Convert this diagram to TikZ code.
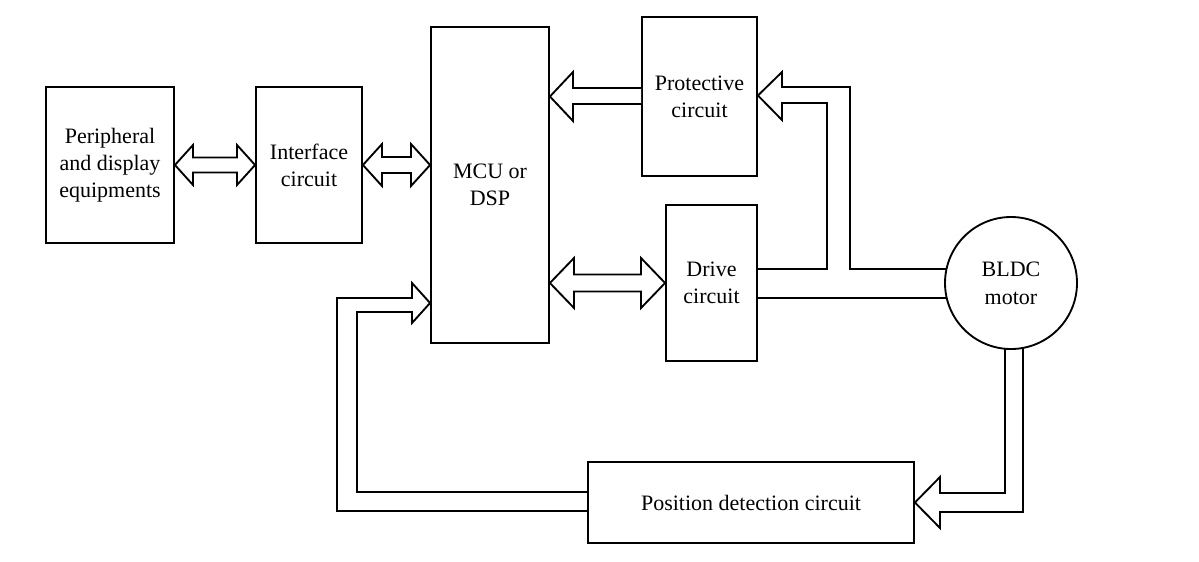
\documentclass[tikz,border=0pt]{standalone}
\usepackage{fontspec}
\setmainfont{Liberation Serif}
\newcommand{\fsz}{\fontsize{16.5}{20.25}\selectfont}
\begin{document}
\begin{tikzpicture}[x=0.75pt,y=-0.75pt,line width=1.4pt,line join=miter,
  box/.style={draw,line width=1.4pt,inner sep=0pt,align=center,font=\fsz},
  pipe/.style={draw,line width=1.4pt,fill=white,line join=miter}]
\useasboundingbox (0,0) rectangle (1199,561);
\node[box,minimum width=96pt,minimum height=117pt] (per) at (110,165) {Peripheral\\and display\\equipments};
\node[box,minimum width=79.5pt,minimum height=117pt] (int) at (309,165) {Interface\\circuit};
\node[box,minimum width=88.5pt,minimum height=237pt] (mcu) at (490,185) {MCU or\\DSP};
\node[box,minimum width=86.25pt,minimum height=119.25pt] (prot) at (699.5,96.5) {Protective\\circuit};
\node[box,minimum width=68.25pt,minimum height=117pt] (drv) at (711.5,283) {Drive\\circuit};
\node[box,minimum width=244.5pt,minimum height=60.75pt] (pos) at (751,502.5) {Position detection circuit};
\node[box,circle,minimum size=99pt,font={\fontsize{16.5}{21}\selectfont}] (mot) at (1011,283) {BLDC\\motor};
% Peripheral <-> Interface
\draw[pipe] (per.east|-0,165) -- (193,145) -- (193,157.5) -- (237,157.5) -- (237,145) -- (int.west|-0,165)
  -- (237,185) -- (237,172.5) -- (193,172.5) -- (193,185) -- cycle;
% Interface <-> MCU
\draw[pipe] (int.east|-0,165) -- (382,144) -- (382,157) -- (411,157) -- (411,144) -- (mcu.west|-0,165)
  -- (411,186) -- (411,173) -- (382,173) -- (382,186) -- cycle;
% Protective -> MCU
\draw[pipe] (prot.west|-0,88) -- (573,88) -- (573,72) -- (mcu.east|-0,96.5) -- (573,121) -- (573,104) -- (prot.west|-0,104);
% MCU <-> Drive
\draw[pipe] (mcu.east|-0,283) -- (574,258) -- (574,274.5) -- (641,274.5) -- (641,258) -- (drv.west|-0,283)
  -- (641,308) -- (641,291.5) -- (574,291.5) -- (574,308) -- cycle;
% Motor -> Protective (branch of drive-motor link)
\draw[pipe,fill=none] (946.5,269) -- (850,269) -- (850,87) -- (782,87) -- (782,72) -- (prot.east|-0,95.5)
  -- (782,120) -- (782,103) -- (827,103) -- (827,269) -- (drv.east|-0,269);
\draw (drv.east|-0,298) -- (946.7,298);
% Motor -> Position detection
\draw[pipe,fill=none] (1005,348.7) -- (1005,493) -- (940,493) -- (940,477) -- (pos.east|-0,502.5)
  -- (940,528) -- (940,512) -- (1023,512) -- (1023,347.9);
% Position detection -> MCU
\draw[pipe,fill=none] (pos.west|-0,511) -- (337,511) -- (337,298) -- (412,298) -- (412,283) -- (mcu.west|-0,303)
  -- (412,323) -- (412,312) -- (357,312) -- (357,492) -- (pos.west|-0,492);
\end{tikzpicture}
\end{document}
